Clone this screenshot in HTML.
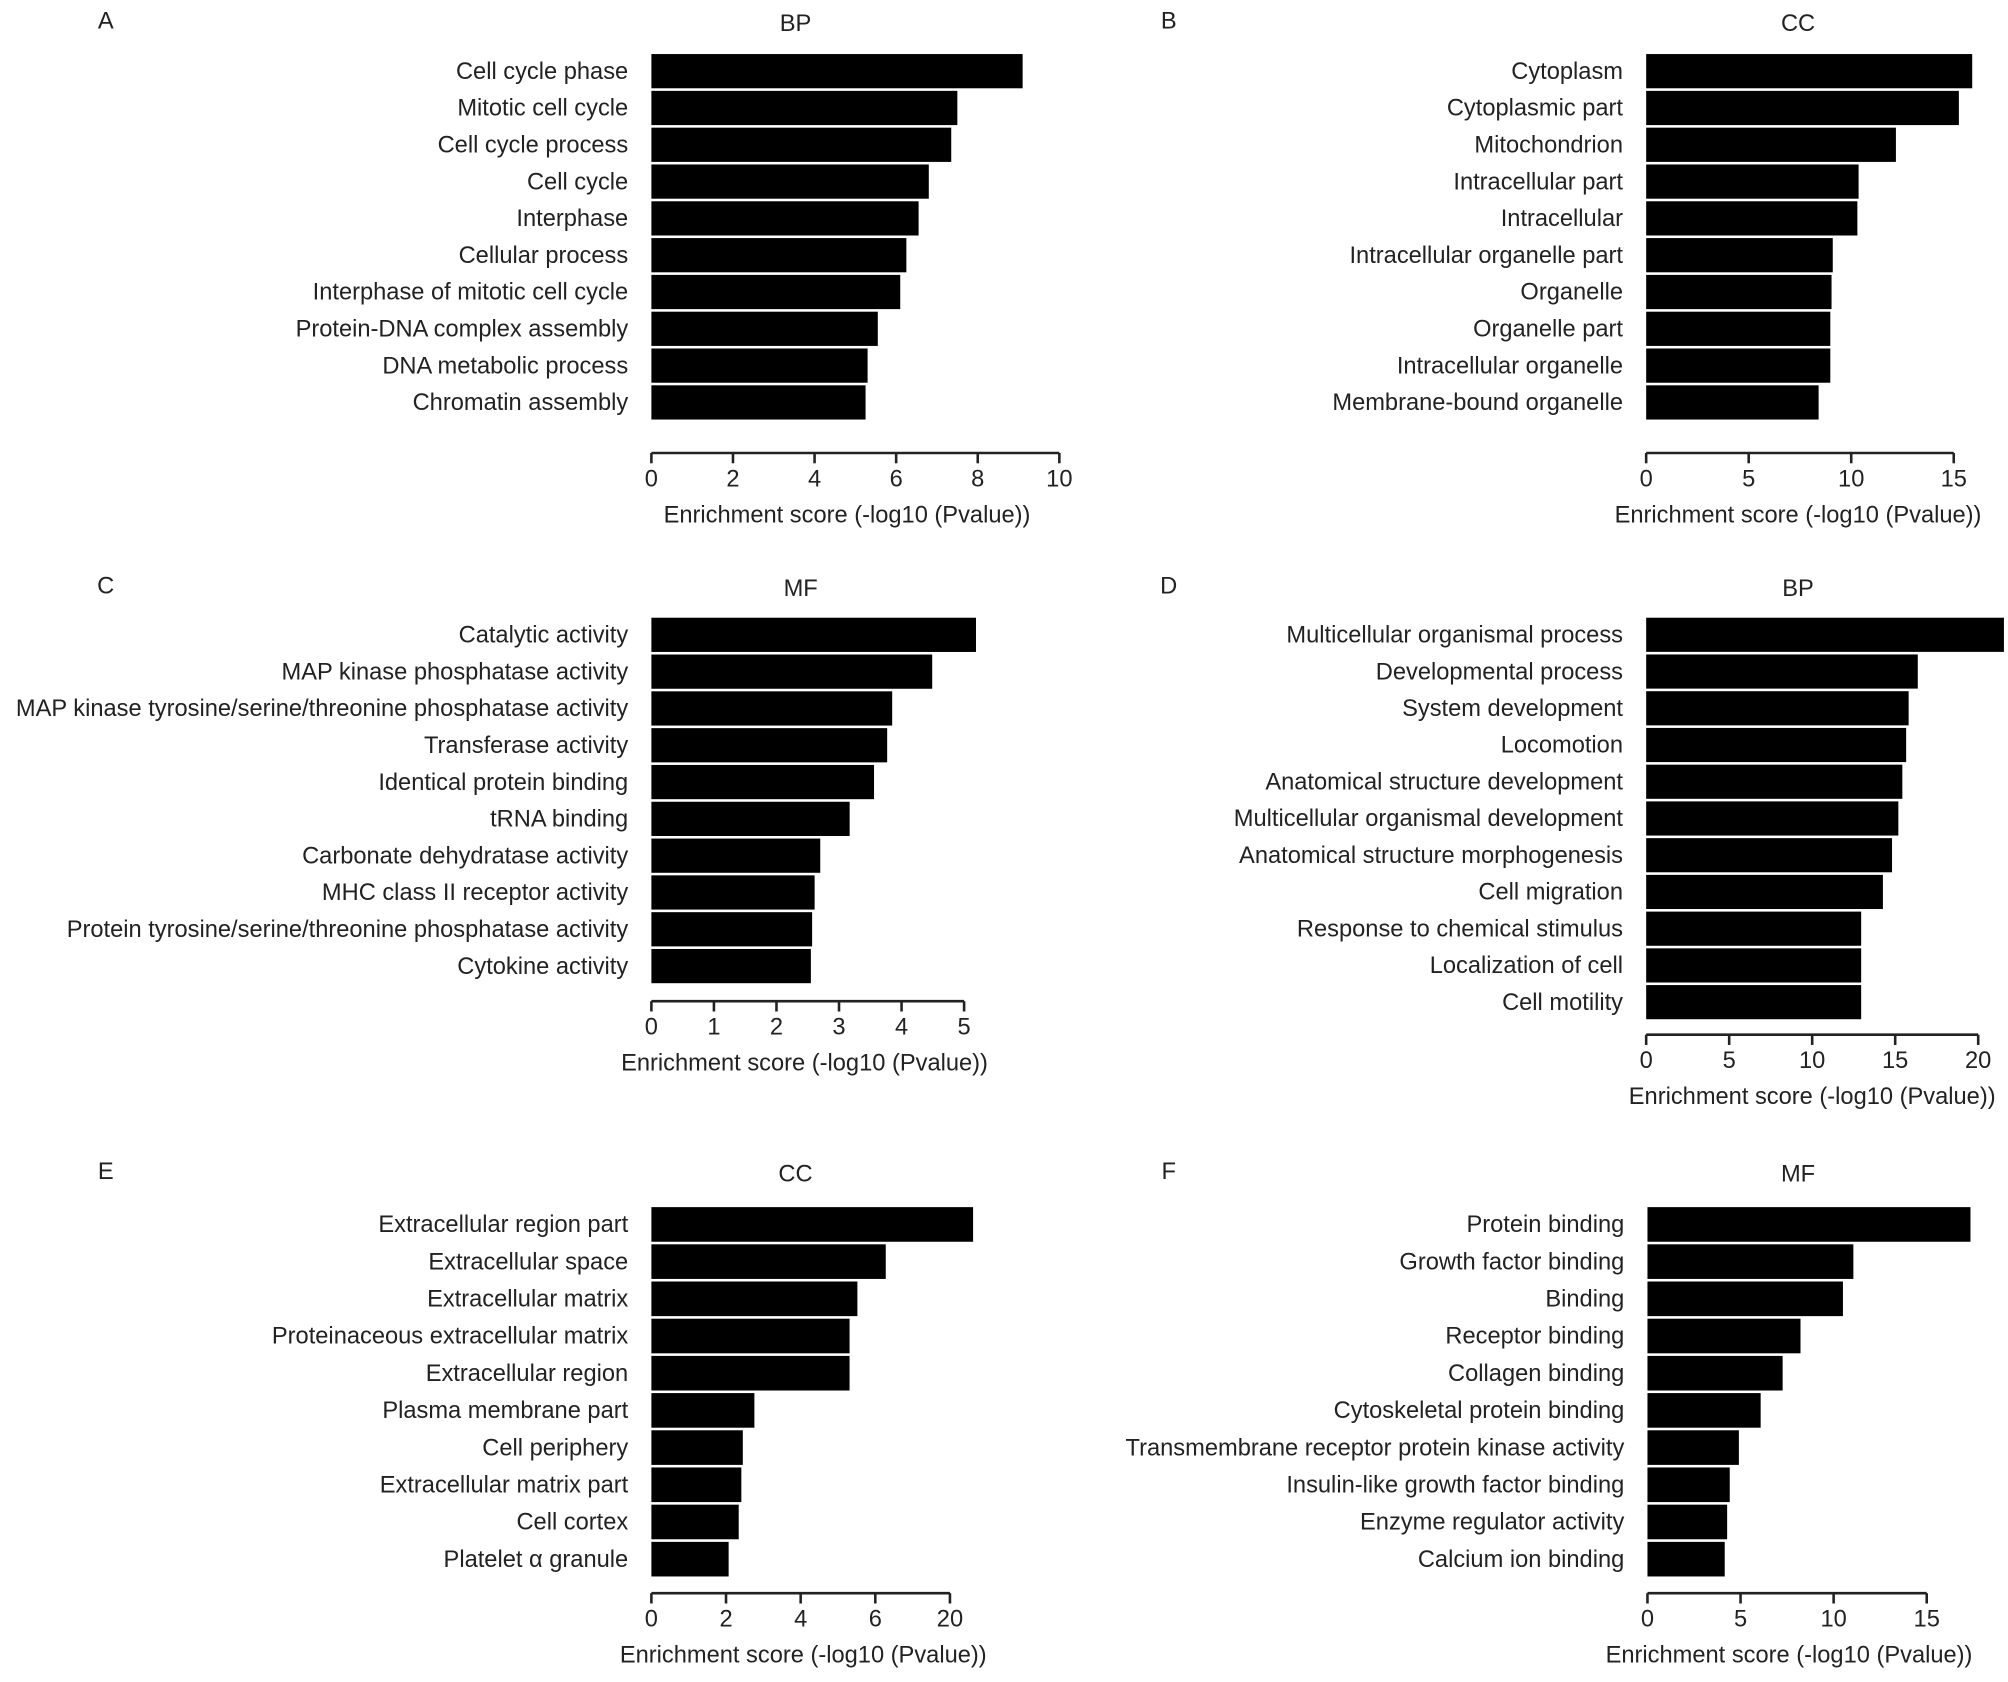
<!DOCTYPE html>
<html><head><meta charset="utf-8"><style>
body{margin:0;background:#fff}
svg{display:block}
text{font-family:"Liberation Sans",Arial,sans-serif;fill:#222}
</style></head><body>
<svg id="chart" width="2008" height="1682" viewBox="0 0 1560 1307"></svg>
<script>
const catsA=["Cell cycle phase","Mitotic cell cycle","Cell cycle process","Cell cycle","Interphase","Cellular process","Interphase of mitotic cell cycle","Protein-DNA complex assembly","DNA metabolic process","Chromatin assembly"];
const valsA=[9.1,7.5,7.35,6.8,6.55,6.25,6.1,5.55,5.3,5.25];
const ticksA=[0,2,4,6,8,10];
const tickLabelsA=["0","2","4","6","8","10"];
const catsB=["Cytoplasm","Cytoplasmic part","Mitochondrion","Intracellular part","Intracellular","Intracellular organelle part","Organelle","Organelle part","Intracellular organelle","Membrane-bound organelle"];
const valsB=[15.9,15.25,12.18,10.36,10.3,9.1,9.04,8.98,8.98,8.41];
const ticksB=[0,5,10,15];
const tickLabelsB=["0","5","10","15"];
const catsC=["Catalytic activity","MAP kinase phosphatase activity","MAP kinase tyrosine/serine/threonine phosphatase activity","Transferase activity","Identical protein binding","tRNA binding","Carbonate dehydratase activity","MHC class II receptor activity","Protein tyrosine/serine/threonine phosphatase activity","Cytokine activity"];
const valsC=[5.19,4.49,3.85,3.77,3.56,3.17,2.70,2.61,2.57,2.55];
const ticksC=[0,1,2,3,4,5];
const tickLabelsC=["0","1","2","3","4","5"];
const catsD=["Multicellular organismal process","Developmental process","System development","Locomotion","Anatomical structure development","Multicellular organismal development","Anatomical structure morphogenesis","Cell migration","Response to chemical stimulus","Localization of cell","Cell motility"];
const valsD=[21.55,16.36,15.81,15.66,15.43,15.19,14.81,14.26,12.95,12.95,12.95];
const ticksD=[0,5,10,15,20];
const tickLabelsD=["0","5","10","15","20"];
const catsE=["Extracellular region part","Extracellular space","Extracellular matrix","Proteinaceous extracellular matrix","Extracellular region","Plasma membrane part","Cell periphery","Extracellular matrix part","Cell cortex","Platelet α granule"];
const valsE=[8.62,6.28,5.52,5.31,5.31,2.76,2.45,2.41,2.34,2.07];
const ticksE=[0,2,4,6,8];
const tickLabelsE=["0","2","4","6","20"];
const catsF=["Protein binding","Growth factor binding","Binding","Receptor binding","Collagen binding","Cytoskeletal protein binding","Transmembrane receptor protein kinase activity","Insulin-like growth factor binding","Enzyme regulator activity","Calcium ion binding"];
const valsF=[17.35,11.06,10.5,8.22,7.26,6.08,4.91,4.42,4.28,4.15];
const ticksF=[0,5,10,15];
const tickLabelsF=["0","5","10","15"];

const NS="http://www.w3.org/2000/svg";
const svg=document.getElementById('chart');
const FS=18.4;
function mk(tag,attrs,parent){const e=document.createElementNS(NS,tag);for(const k in attrs)e.setAttribute(k,attrs[k]);parent.appendChild(e);return e;}

function panel(id,letter,title,cats,vals,ticks,tickLabels,L){
  const g=mk('g',{},svg);
  
  
  const sx=v=>L.x0+(v-ticks[0])*(L.x1-L.x0)/(ticks[ticks.length-1]-ticks[0]);
  const t1=mk('text',{x:L.lx,y:L.ty,'font-size':FS,'text-anchor':'middle'},g);t1.textContent=letter;
  
  
  const t2=mk('text',{x:L.tx,y:L.ty+2,'font-size':FS,'text-anchor':'middle'},g);t2.textContent=title;
  
  
  const n=cats.length,pitch=(L.bot-L.top)/n;
  cats.forEach((c,i)=>{
    const cy=L.top+pitch*(i+0.5);
    const r=mk('rect',{x:sx(0),y:cy-pitch/2+1,width:sx(vals[i])-sx(0),height:pitch-2,fill:'#000'},g);
    
    
    const t=mk('text',{x:L.x0-18,y:cy+6,'font-size':FS,'text-anchor':'end'},g);t.textContent=c;
    
    
  });
  const ax=mk('line',{x1:sx(ticks[0]),x2:sx(ticks[ticks.length-1]),y1:L.ay,y2:L.ay,stroke:'#222','stroke-width':2},g);
  
  
  ticks.forEach((tv,i)=>{
    mk('line',{x1:sx(tv),x2:sx(tv),y1:L.ay,y2:L.ay+8,stroke:'#222','stroke-width':2},g);
    const t=mk('text',{x:sx(tv),y:L.ay+26,'font-size':FS,'text-anchor':'middle'},g);t.textContent=tickLabels[i];
    
    
  });
  const at=mk('text',{x:L.atx,y:L.ay+54,'font-size':FS,'text-anchor':'middle'},g);at.textContent="Enrichment score (-log10 (Pvalue))";
  
  
}
panel('a','A','BP',catsA,valsA,ticksA,tickLabelsA,{x0:506,x1:823,top:41,bot:327,ay:352,lx:82,tx:618,ty:22,atx:658});
panel('b','B','CC',catsB,valsB,ticksB,tickLabelsB,{x0:1279,x1:1518,top:41,bot:327,ay:352,lx:908,tx:1397,ty:22,atx:1397});
panel('c','C','MF',catsC,valsC,ticksC,tickLabelsC,{x0:506,x1:749,top:479,bot:765,ay:778,lx:82,tx:622,ty:461,atx:625});
panel('d','D','BP',catsD,valsD,ticksD,tickLabelsD,{x0:1279,x1:1537,top:479,bot:793,ay:804,lx:908,tx:1397,ty:461,atx:1408});
panel('e','E','CC',catsE,valsE,ticksE,tickLabelsE,{x0:506,x1:738,top:937,bot:1226,ay:1238,lx:82,tx:618,ty:916,atx:624});
panel('f','F','MF',catsF,valsF,ticksF,tickLabelsF,{x0:1280,x1:1497,top:937,bot:1226,ay:1238,lx:908,tx:1397,ty:916,atx:1390});
</script>
</body></html>
